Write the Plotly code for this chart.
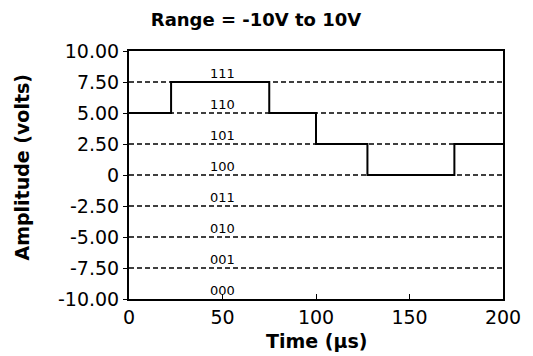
import plotly.graph_objects as go

# Step signal (time in µs, amplitude in volts)
step_times = [0, 22.5, 75, 100, 127.5, 174, 200]
step_levels = [5.0, 7.5, 5.0, 2.5, 0.0, 2.5, 2.5]

# Quantization levels and codes
grid_levels = [7.5, 5.0, 2.5, 0.0, -2.5, -5.0, -7.5]
code_labels = ["000", "001", "010", "011", "100", "101", "110", "111"]
code_levels = [-10.0, -7.5, -5.0, -2.5, 0.0, 2.5, 5.0, 7.5]
code_x = 50

y_ticks = [10, 7.5, 5, 2.5, 0, -2.5, -5, -7.5, -10]
y_ticktext = ["10.00", "7.50", "5.00", "2.50", "0", "-2.50", "-5.00", "-7.50", "-10.00"]
x_ticks = [0, 50, 100, 150, 200]

FONT = "DejaVu Sans"

fig = go.Figure()

for lv in grid_levels:
    fig.add_trace(go.Scatter(x=[0, 200], y=[lv, lv], mode="lines",
                             line=dict(color="black", width=1.4, dash="5px,3px"),
                             hoverinfo="skip", showlegend=False))

fig.add_trace(go.Scatter(x=step_times, y=step_levels, mode="lines",
                         line=dict(color="black", width=2, shape="hv"),
                         showlegend=False))

for lab, lv in zip(code_labels, code_levels):
    fig.add_annotation(x=code_x, y=lv, text=lab, showarrow=False,
                       yanchor="bottom", yshift=-1,
                       font=dict(family=FONT, size=13, color="black"))

# Axis titles placed as annotations
fig.add_annotation(xref="paper", yref="paper", x=0.5, y=-0.17,
                   xanchor="center", yanchor="middle", showarrow=False,
                   text="<b>Time (µs)</b>",
                   font=dict(family=FONT, size=19, color="black"))
fig.add_annotation(xref="paper", yref="paper", x=-107 / 374, y=0.53,
                   xanchor="center", yanchor="middle", showarrow=False,
                   textangle=-90, text="<b>Amplitude (volts)</b>",
                   font=dict(family=FONT, size=19, color="black"))

fig.update_layout(
    width=533, height=356,
    margin=dict(l=129, r=30, t=51, b=57),
    paper_bgcolor="white", plot_bgcolor="white",
    title=dict(text="<b>Range = -10V to 10V</b>", x=256 / 533, xanchor="center",
               y=1 - 20 / 356, yanchor="middle",
               font=dict(family=FONT, size=18, color="black")),
    xaxis=dict(range=[0, 200], tickvals=x_ticks, ticks="inside", ticklen=5,
               tickcolor="black", showline=True, linecolor="black", linewidth=2,
               mirror=True, showgrid=False, zeroline=False,
               tickfont=dict(family=FONT, size=19, color="black")),
    yaxis=dict(range=[-10, 10], tickvals=y_ticks, ticktext=y_ticktext,
               ticks="outside", ticklen=4, tickcolor="black",
               showline=True, linecolor="black", linewidth=2, mirror=True,
               showgrid=False, zeroline=False,
               tickfont=dict(family=FONT, size=19, color="black")),
)

fig.write_html("out.html")
